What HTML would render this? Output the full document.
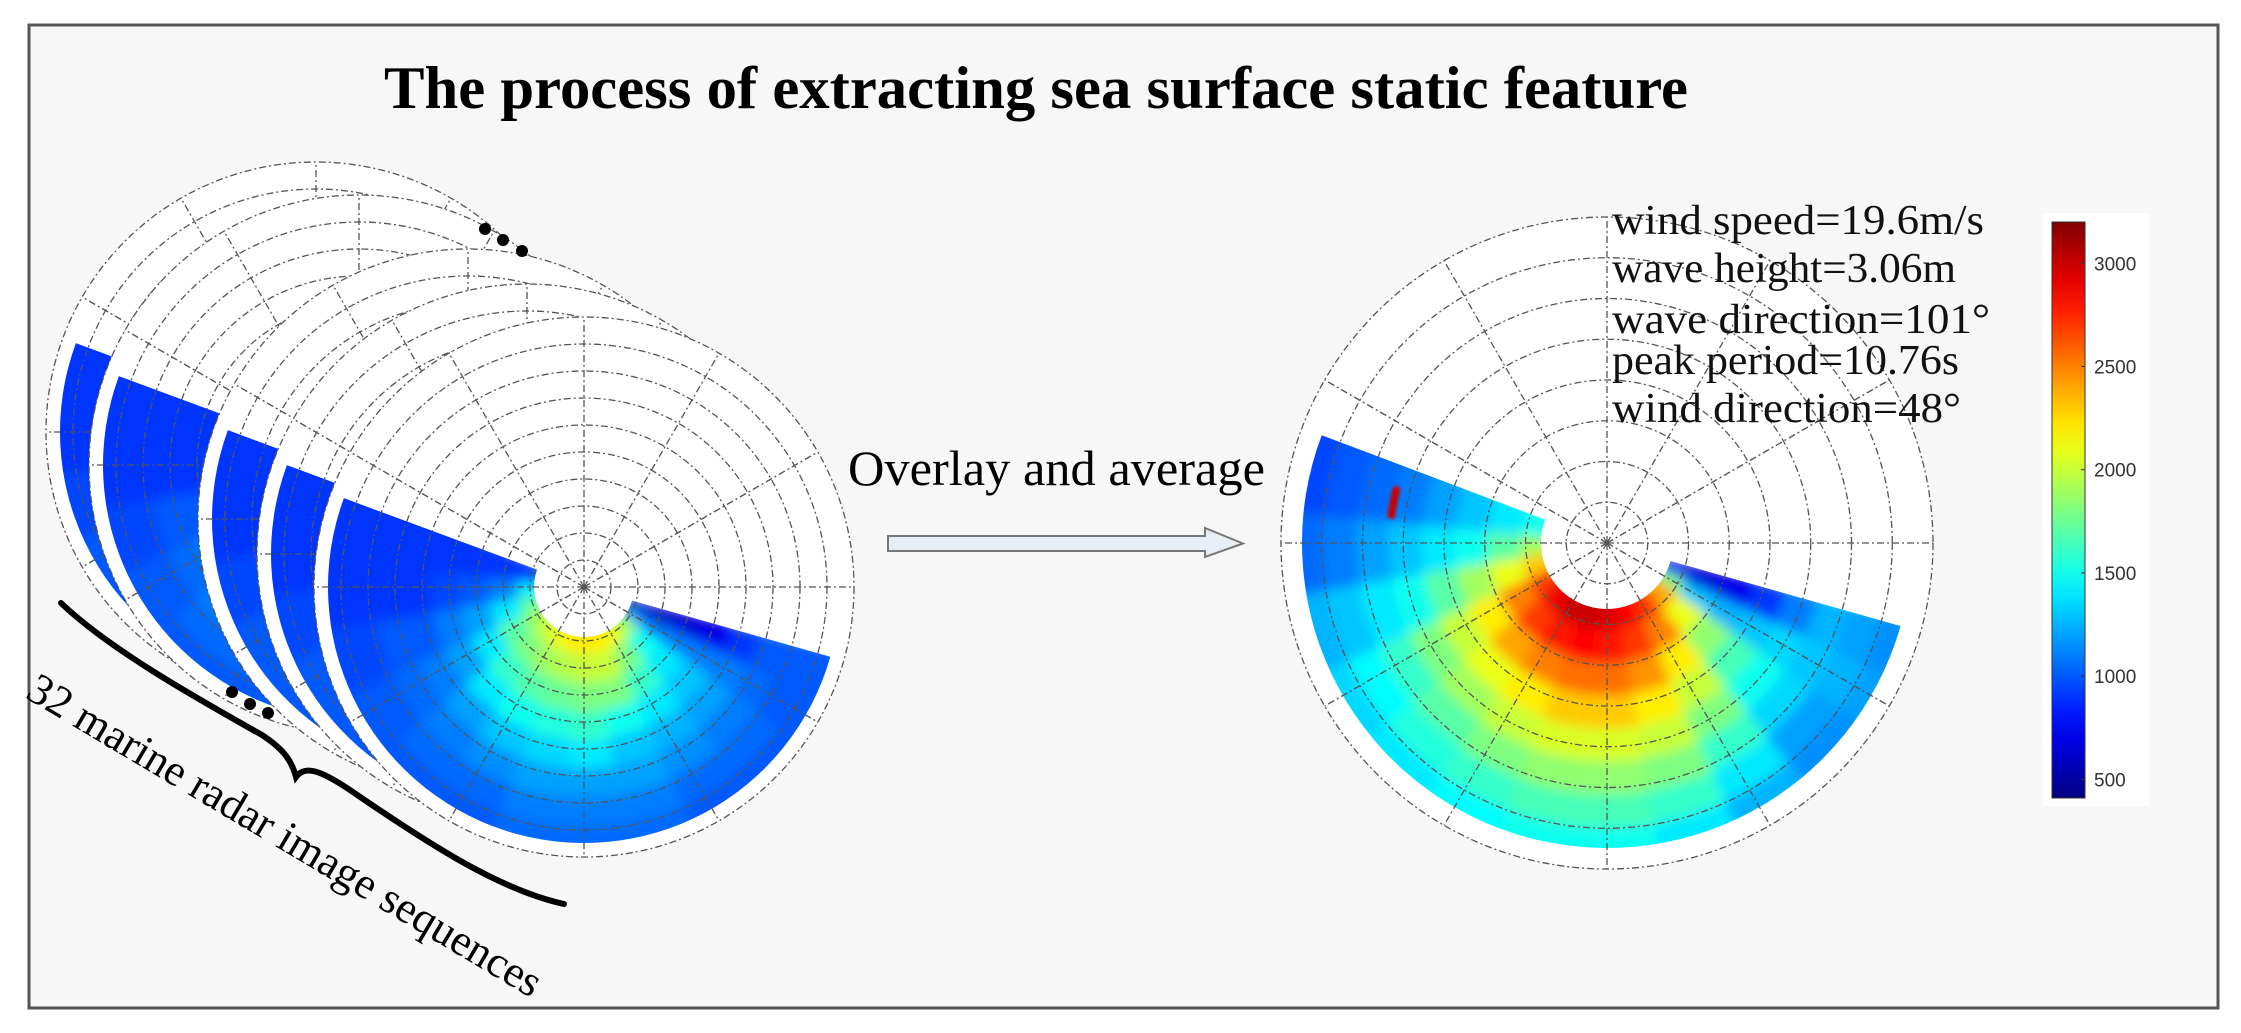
<!DOCTYPE html>
<html><head><meta charset="utf-8"><style>
html,body{margin:0;padding:0;background:#fff;}
svg{display:block;}
</style></head><body>
<svg id="fig" width="2241" height="1033" viewBox="0 0 2241 1033" xmlns="http://www.w3.org/2000/svg">
<defs>
<filter id="soft" x="-5%" y="-5%" width="110%" height="110%"><feGaussianBlur stdDeviation="6"/></filter>
<filter id="soft2" x="-50%" y="-50%" width="200%" height="200%"><feGaussianBlur stdDeviation="1.5"/></filter>
<linearGradient id="jetGrad" x1="0" y1="1" x2="0" y2="0"></linearGradient>
</defs>
<rect x="0" y="0" width="2241" height="1033" fill="#ffffff"/>
<rect x="29" y="25" width="2189" height="983" fill="#f7f7f7" stroke="#555" stroke-width="3"/>
<text x="1036" y="108" text-anchor="middle" font-family="'Liberation Serif',serif" font-weight="bold" font-size="60" textLength="1304" lengthAdjust="spacingAndGlyphs" fill="#000">The process of extracting sea surface static feature</text>
<g id="leftStack"></g>
<g id="rightPolar"></g>
<text x="848" y="485" font-family="'Liberation Serif',serif" font-size="50" textLength="417" lengthAdjust="spacingAndGlyphs" fill="#000">Overlay and average</text>
<path d="M888,536 L1205,536 L1205,528 L1243,543.5 L1205,557 L1205,551 L888,551 Z" fill="#e8eef6" stroke="#777" stroke-width="2"/>
<g font-family="'Liberation Serif',serif" font-size="42" fill="#111">
<text x="1612" y="234" textLength="372" lengthAdjust="spacingAndGlyphs">wind speed=19.6m/s</text>
<text x="1612" y="282" textLength="344" lengthAdjust="spacingAndGlyphs">wave height=3.06m</text>
<text x="1612" y="333" textLength="378" lengthAdjust="spacingAndGlyphs">wave direction=101°</text>
<text x="1612" y="374" textLength="347" lengthAdjust="spacingAndGlyphs">peak period=10.76s</text>
<text x="1612" y="422" textLength="349" lengthAdjust="spacingAndGlyphs">wind direction=48°</text>
</g>
<g id="colorbar">
<rect x="2043" y="213" width="106" height="593" fill="#fff"/>
<rect id="cbBar" x="2052" y="222" width="33" height="576" fill="url(#jetGrad)" stroke="#333" stroke-width="1"/>
</g>
<g>
<path d="M61,603 C110,650 200,700 262,735 C285,750 292,762 296,777 C305,765 320,770 350,790 C430,845 500,890 564,904" fill="none" stroke="#000" stroke-width="6" stroke-linecap="round"/>
<circle cx="485" cy="229" r="6" fill="#000"/>
<circle cx="503" cy="240" r="6" fill="#000"/>
<circle cx="522" cy="251" r="6" fill="#000"/>
<circle cx="232" cy="692" r="6" fill="#000"/>
<circle cx="250" cy="704" r="6" fill="#000"/>
<circle cx="268" cy="713" r="6" fill="#000"/>
<text x="0" y="0" transform="translate(24,697) rotate(30.7)" font-family="'Liberation Serif',serif" font-size="44" textLength="590" lengthAdjust="spacingAndGlyphs" fill="#000">32 marine radar image sequences</text>
</g>
</svg>
<script>
// ---- data ----
const cbTicks = [500, 1000, 1500, 2000, 2500, 3000];
const cMin = 410, cMax = 3200;
const azBins = [205, 185, 170, 155, 140, 125, 110, 95, 80, 65, 50, 35, 25, 14];
const avgValues = [
 [1500,1400,1300,1200,1100,1050,1000,950],
 [1900,1700,1500,1400,1300,1200,1100,1050],
 [2300,2100,1900,1700,1500,1400,1300,1250],
 [2700,2500,2200,2000,1800,1600,1450,1350],
 [2900,2700,2400,2100,1900,1700,1550,1400],
 [3000,2800,2500,2200,2000,1800,1600,1450],
 [3000,2850,2550,2300,2050,1850,1650,1500],
 [2950,2800,2550,2300,2050,1850,1650,1500],
 [2850,2700,2450,2200,2000,1800,1600,1400],
 [2700,2500,2200,2000,1800,1600,1400,1250],
 [2400,2100,1850,1650,1500,1350,1200,1150],
 [1800,1300,1250,1300,1350,1300,1250,1200],
 [700,650,700,900,1100,1250,1200,1150]
];
const singleValues = [
 [900,900,900,900,900,900,900,900],
 [1400,1100,1000,950,900,900,900,900],
 [1700,1400,1200,1100,1000,1000,950,950],
 [1900,1700,1400,1200,1100,1050,1000,1000],
 [2000,1800,1600,1400,1200,1100,1050,1000],
 [2100,1900,1700,1500,1300,1150,1050,1000],
 [2200,1950,1750,1550,1350,1200,1100,1050],
 [2200,2000,1800,1600,1400,1200,1100,1050],
 [2200,2000,1800,1500,1300,1200,1100,1050],
 [2100,1800,1600,1400,1250,1150,1050,1000],
 [1900,1500,1400,1300,1200,1100,1050,1000],
 [1200,1100,1100,1100,1100,1050,1000,1000],
 [600,600,650,700,900,1000,1000,1000]
];
const hotspotValue = [3000];
// ---- helpers ----
const NS = 'http://www.w3.org/2000/svg';
function jet(v){
  const t = Math.max(0, Math.min(1, (v - cMin) / (cMax - cMin)));
  const c = x => Math.round(255 * Math.max(0, Math.min(1, x)));
  return `rgb(${c(1.5-Math.abs(4*t-3))},${c(1.5-Math.abs(4*t-2))},${c(1.5-Math.abs(4*t-1))})`;
}
function yCb(v){ return 798 - (v - cMin) / (cMax - cMin) * 576; }
function pt(cx, cy, r, a){ const t = a * Math.PI / 180; return [cx + r*Math.cos(t), cy + r*Math.sin(t)]; }
function sector(cx, cy, r0, r1, a0, a1){
  const p1 = pt(cx,cy,r1,a0), p2 = pt(cx,cy,r1,a1), p3 = pt(cx,cy,r0,a1), p4 = pt(cx,cy,r0,a0);
  const large = Math.abs(a0-a1) > 180 ? 1 : 0;
  const sw = a1 > a0 ? 1 : 0;
  return `M${p1[0]},${p1[1]} A${r1},${r1} 0 ${large} ${sw} ${p2[0]},${p2[1]} L${p3[0]},${p3[1]} A${r0},${r0} 0 ${large} ${1-sw} ${p4[0]},${p4[1]} Z`;
}
function mk(tag, attrs, parent){ const e = document.createElementNS(NS, tag); for (const k in attrs) e.setAttribute(k, attrs[k]); parent.appendChild(e); return e; }
let clipId = 0;
function polar(parent, cx, cy, R, rings, dataR, holeR, a0, a1, values, hot){
  const g = mk('g', {}, parent);
  
  
  const disc = mk('circle', {cx:cx, cy:cy, r:R, fill:'#fff'}, g);
  
  
  const id = 'clip' + (clipId++);
  const cp = mk('clipPath', {id:id}, g);
  mk('path', {d: sector(cx, cy, holeR, dataR, a0, a1)}, cp);
  const wrap = mk('g', {'clip-path': `url(#${id})`}, g);
  const heat = mk('g', {filter:'url(#soft)'}, wrap);
  
  
  const nR = values[0].length;
  const rStep = (dataR + 12 - (holeR - 12)) / nR;
  for (let i = 0; i < values.length; i++){
    for (let j = 0; j < nR; j++){
      const c = mk('path', {d: sector(cx, cy, holeR - 12 + j*rStep, holeR - 12 + (j+1)*rStep + 0.5, azBins[i] + 0.5, azBins[i+1]), fill: jet(values[i][j])}, heat);
      
      
    }
  }
  if (hot){
    const h = mk('path', {d: sector(cx, cy, dataR*0.70, dataR*0.725, 195, 186.5), fill: jet(hotspotValue[0]), filter:'url(#soft2)'}, wrap);
    
    
  }
  const grid = mk('g', {fill:'none', stroke:'#555', 'stroke-width':1.3, 'stroke-dasharray':'7 3 2 3'}, g);
  
  
  for (let k = 1; k <= rings; k++){
    const c = mk('circle', {cx:cx, cy:cy, r: R*k/rings}, grid);
    
    
  }
  for (let a = 0; a < 360; a += 30){
    const p = pt(cx, cy, R, a);
    const l = mk('line', {x1:cx, y1:cy, x2:p[0], y2:p[1]}, grid);
    
    
  }
  return g;
}
// ---- left stack (back to front) ----
const stack = document.getElementById('leftStack');
const stackCenters = [[316,432],[359,465],[468,519],[527,554],[584,587]];
stackCenters.forEach(c => polar(stack, c[0], c[1], 270, 10, 256, 50, 200.3, 15.8, singleValues, false));
// ---- right averaged polar ----
polar(document.getElementById('rightPolar'), 1607, 543, 326, 8, 305, 66, 200.7, 15.8, avgValues, true);
// ---- colorbar ----
const grad = document.getElementById('jetGrad');
for (let s = 0; s <= 20; s++){
  const v = cMin + (cMax - cMin) * s / 20;
  mk('stop', {offset: (s/20), 'stop-color': jet(v)}, grad);
}
const cb = document.getElementById('colorbar');
cbTicks.forEach(v => {
  const y = yCb(v);
  const tk = mk('line', {x1:2081, x2:2085, y1:y, y2:y, stroke:'#333', 'stroke-width':1}, cb);
  
  
  const t = mk('text', {x:2094, y:y+7, 'font-family':"'Liberation Sans',sans-serif", 'font-size':19, fill:'#333'}, cb);
  t.textContent = v;
  
  
});
</script>
</body></html>
